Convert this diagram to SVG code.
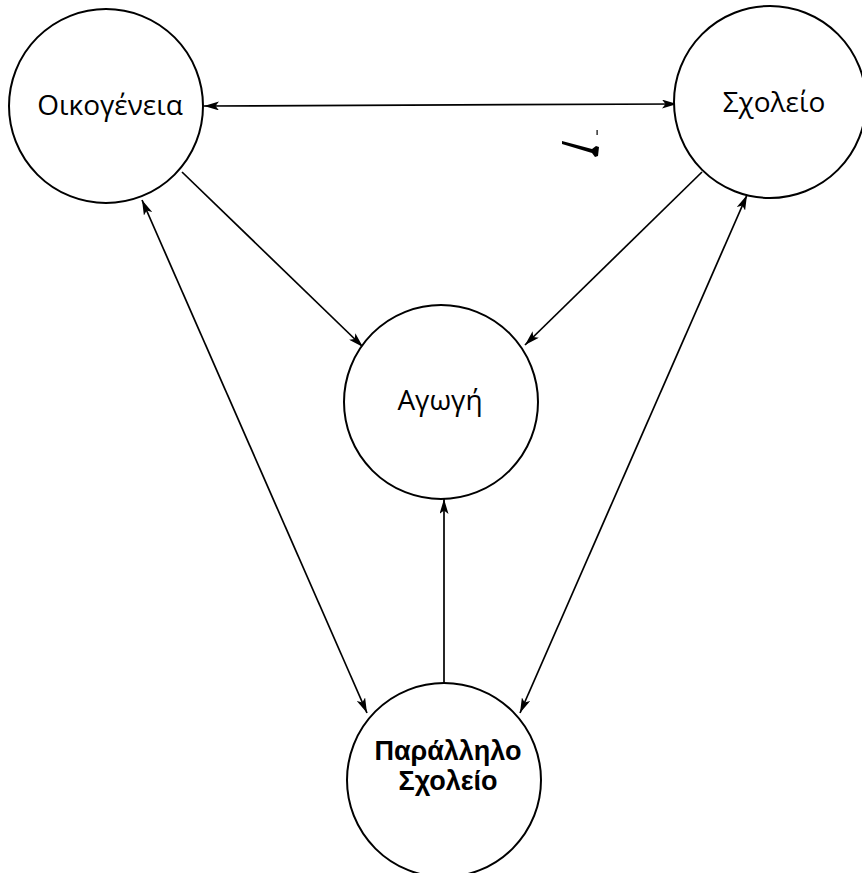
<svg xmlns="http://www.w3.org/2000/svg" width="862" height="873" viewBox="0 0 862 873">
<defs>
<marker id="ah" viewBox="0 0 15 9" refX="15" refY="4.5" markerWidth="15" markerHeight="9" markerUnits="userSpaceOnUse" orient="auto-start-reverse">
<path d="M0,0 L15,4.5 L0,9 L3.5,4.5 Z" fill="#000"/>
</marker>
<style>
.node circle{fill:#fff;stroke:#000;stroke-width:2}
.lbl{font-family:"Open Sans","DejaVu Sans",sans-serif;font-size:28px;fill:#000;text-anchor:middle}
.blbl{font-family:"Liberation Sans",Arial,sans-serif;font-weight:bold;font-size:27px;fill:#000;text-anchor:middle}
.edge{stroke:#000;stroke-width:1.7;fill:none}
</style>
</defs>
<rect width="862" height="873" fill="#fff"/>
<g id="connectors">
<line class="edge" x1="204" y1="106" x2="677" y2="104" marker-start="url(#ah)" marker-end="url(#ah)"/>
<line class="edge" x1="182" y1="172" x2="363" y2="347" marker-end="url(#ah)"/>
<line class="edge" x1="702" y1="172" x2="525" y2="345" marker-end="url(#ah)"/>
<line class="edge" x1="142" y1="200" x2="367" y2="713" marker-start="url(#ah)" marker-end="url(#ah)"/>
<line class="edge" x1="747" y1="195" x2="520" y2="713" marker-start="url(#ah)" marker-end="url(#ah)"/>
<line class="edge" x1="444" y1="684" x2="444" y2="499" marker-end="url(#ah)"/>
</g>
<g id="oikogeneia" class="node">
<circle cx="106" cy="106" r="97"/>
<text class="lbl" x="110" y="115">Οικογένεια</text>
</g>
<g id="sxoleio" class="node">
<circle cx="770" cy="102" r="96"/>
<text class="lbl" x="774" y="112">Σχολείο</text>
</g>
<g id="agogi" class="node">
<circle cx="441" cy="402" r="97"/>
<text class="lbl" x="440" y="410">Αγωγή</text>
</g>
<g id="parallilo" class="node">
<circle cx="444" cy="780" r="97"/>
<text class="blbl" x="448" y="760">Παράλληλο</text>
<text class="blbl" x="448" y="790">Σχολείο</text>
</g>
<polygon points="562,141 592,149 596,146 599,147 598,156 595,157 592,153 562,144" fill="#000"/>
<rect x="596.5" y="130" width="1.2" height="5" fill="#000"/>
</svg>
